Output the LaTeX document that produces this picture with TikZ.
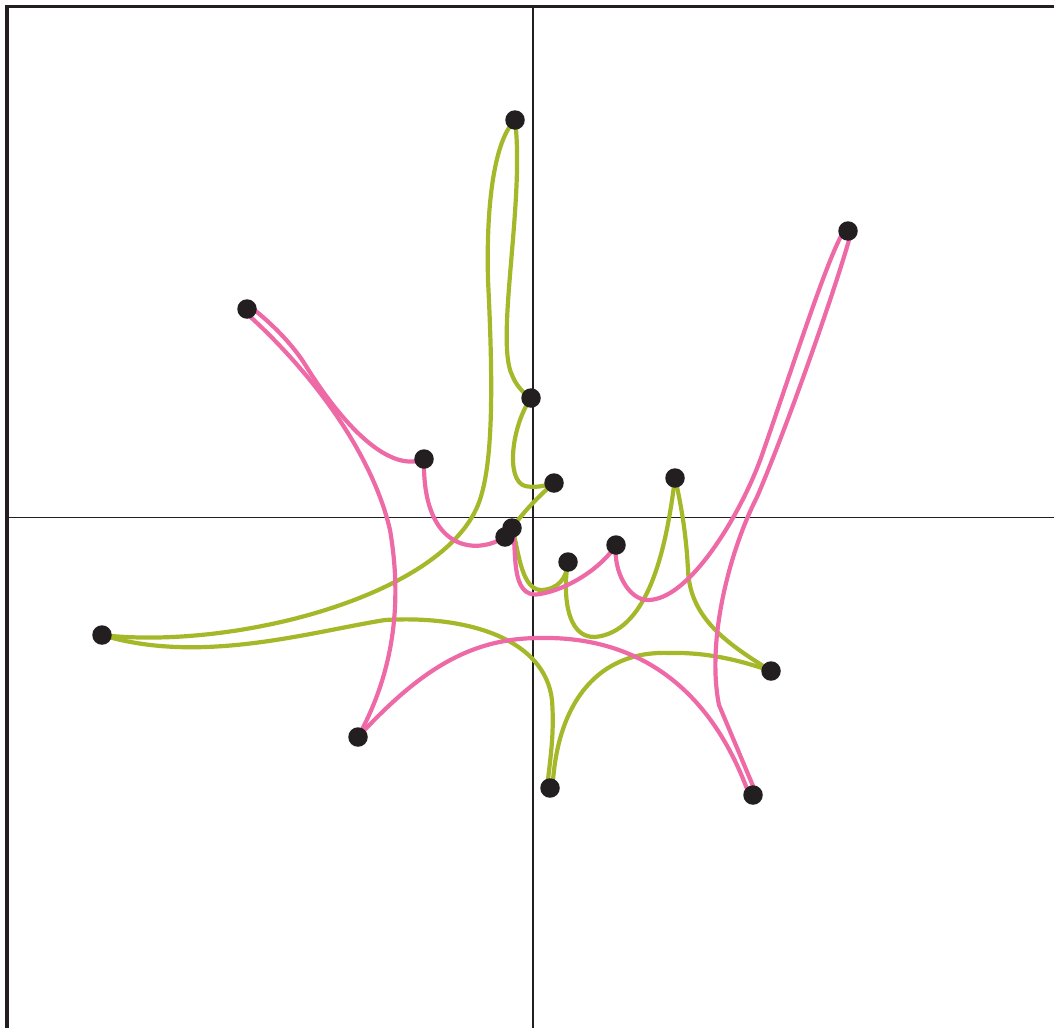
\documentclass[tikz,border=0pt]{standalone}
\usetikzlibrary{backgrounds}
\definecolor{cgreen}{HTML}{A5B82A}
\definecolor{cpink}{HTML}{EE6AA7}
\definecolor{cdark}{HTML}{231F20}
\begin{document}
\begin{tikzpicture}[x=1pt,y=-1pt,
  dot/.style={circle,fill=cdark,inner sep=0pt,minimum size=19.5pt},
  gline/.style={draw=cgreen,line width=4.2pt},
  pline/.style={draw=cpink,line width=4.2pt},
  framestyle/.style={draw=cdark,line width=3.2pt,line join=miter},
  axisstyle/.style={draw=cdark,line width=1.7pt}]
\useasboundingbox (0,0) rectangle (1054,1028);
% points
\node[dot] (p1) at (515,120) {};
\node[dot] (p2) at (848,231) {};
\node[dot] (p3) at (247,309) {};
\node[dot] (p4) at (531,398) {};
\node[dot] (p5) at (424,459) {};
\node[dot] (p6) at (554,483) {};
\node[dot] (p7) at (675,478) {};
\node[dot] (p8) at (512,528) {};
\node[dot] (p9) at (505,537) {};
\node[dot] (p10) at (568,562) {};
\node[dot] (p11) at (616,545) {};
\node[dot] (p12) at (102,635) {};
\node[dot] (p13) at (771,671) {};
\node[dot] (p14) at (358,737) {};
\node[dot] (p15) at (550,788) {};
\node[dot] (p16) at (753,795) {};
\begin{pgfonlayer}{background}
% frame and axes
\draw[framestyle] (7,1028) -- (7,6.2) -- (1054,6.2);
\draw[axisstyle] (533,6.2) -- (533,1028);
\draw[axisstyle] (7,517.5) -- (1054,517.5);
% green curves
\draw[gline] (p1.center) .. controls (525,200) and (495,340) .. (512,375) .. controls (516,385) and (522,392) .. (p4.center);
\draw[gline] (p1.center) .. controls (495,140) and (486,200) .. (488,280) .. controls (494,400) and (492,470) .. (478,505) .. controls (440,598) and (230,650) .. (p12.center);
\draw[gline] (p12.center) .. controls (200,665) and (310,632) .. (385,620) .. controls (470,615) and (545,640) .. (552,700) .. controls (555,740) and (548,770) .. ([shift={(-2.5,0)}]p15.center);
\draw[gline] ([shift={(2.5,0)}]p15.center) .. controls (557,700) and (600,650) .. (670,653) .. controls (710,652) and (745,662) .. (p13.center);
\draw[gline] (p13.center) .. controls (730,645) and (690,620) .. (688,570) .. controls (686,530) and (680,500) .. (p7.center);
\draw[gline] (p7.center) .. controls (665,560) and (645,632) .. (595,637) .. controls (565,638) and (563,590) .. (p10.center);
\draw[gline] (p10.center) .. controls (567,578) and (558,590) .. (540,590) .. controls (520,588) and (518,545) .. (p8.center);
\draw[gline] (p6.center) .. controls (540,495) and (525,510) .. (p8.center);
\draw[gline] (p4.center) .. controls (512,425) and (505,480) .. (525,486) .. controls (535,488) and (545,486) .. (p6.center);
% pink curves
\draw[pline] ([shift={(3,-2.5)}]p3.center) .. controls (265,318) and (290,340) .. (306,366) .. controls (335,413) and (385,475) .. (p5.center);
\draw[pline] ([shift={(-2.6,2.4)}]p3.center) .. controls (310,370) and (372,452) .. (390,530) .. controls (402,600) and (395,670) .. (p14.center);
\draw[pline] (p14.center) .. controls (420,670) and (470,638) .. (540,638) .. controls (640,636) and (712,690) .. ([shift={(-3.3,1.2)}]p16.center);
\draw[pline] ([shift={(3.3,-1.2)}]p16.center) -- (719,705) .. controls (706,640) and (730,550) .. (757,497) .. controls (790,420) and (840,275) .. ([shift={(3.2,1)}]p2.center);
\draw[pline] ([shift={(-3.2,-1)}]p2.center) .. controls (830,250) and (795,360) .. (762,455) .. controls (742,512) and (690,600) .. (648,600) .. controls (628,600) and (613,570) .. (p11.center);
\draw[pline] (p11.center) .. controls (600,570) and (565,590) .. (540,594) .. controls (508,600) and (518,545) .. (p8.center);
\draw[pline] (p9.center) .. controls (475,556) and (422,550) .. (p5.center);
\end{pgfonlayer}
\end{tikzpicture}
\end{document}
